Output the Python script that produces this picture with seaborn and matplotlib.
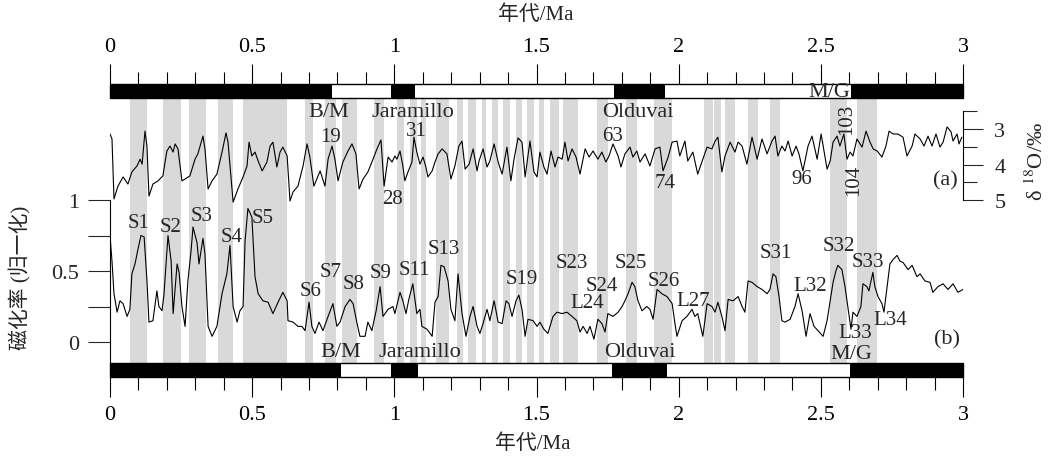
import matplotlib
matplotlib.use("Agg")
import matplotlib.pyplot as plt
from matplotlib.ticker import MultipleLocator, FuncFormatter
import seaborn as sns

# (a) benthic d18O record, age in Ma
age_a = [0.000, 0.007, 0.014, 0.028, 0.046, 0.063, 0.077, 0.095, 0.106, 0.113,
         0.123, 0.130, 0.137, 0.151, 0.169, 0.186, 0.200, 0.211, 0.222, 0.229,
         0.239, 0.253, 0.264, 0.281, 0.299, 0.309, 0.327, 0.334, 0.345, 0.359,
         0.376, 0.394, 0.408, 0.415, 0.433, 0.450, 0.468, 0.482, 0.489, 0.499,
         0.510, 0.521, 0.535, 0.552, 0.563, 0.573, 0.587, 0.598, 0.608, 0.623,
         0.633, 0.644, 0.661, 0.679, 0.693, 0.703, 0.717, 0.739, 0.756, 0.767,
         0.781, 0.791, 0.802, 0.819, 0.837, 0.851, 0.865, 0.876, 0.890, 0.907,
         0.925, 0.939, 0.953, 0.964, 0.978, 0.992, 1.002, 1.009, 1.020, 1.030,
         1.037, 1.048, 1.062, 1.069, 1.079, 1.090, 1.101, 1.111, 1.118, 1.133,
         1.143, 1.154, 1.168, 1.185, 1.199, 1.213, 1.227, 1.238, 1.249, 1.263,
         1.277, 1.291, 1.298, 1.312, 1.326, 1.336, 1.351, 1.365, 1.379, 1.396,
         1.410, 1.421, 1.435, 1.449, 1.460, 1.477, 1.491, 1.502, 1.512, 1.526,
         1.537, 1.551, 1.565, 1.576, 1.590, 1.600, 1.611, 1.625, 1.639, 1.653,
         1.671, 1.685, 1.699, 1.716, 1.730, 1.744, 1.755, 1.769, 1.787, 1.797,
         1.811, 1.829, 1.839, 1.853, 1.864, 1.882, 1.899, 1.917, 1.934, 1.945,
         1.963, 1.977, 1.994, 2.004, 2.022, 2.032, 2.050, 2.067, 2.085, 2.100,
         2.117, 2.128, 2.138, 2.152, 2.163, 2.181, 2.198, 2.209, 2.223, 2.240,
         2.258, 2.276, 2.293, 2.311, 2.328, 2.339, 2.349, 2.363, 2.374, 2.385,
         2.399, 2.413, 2.423, 2.437, 2.455, 2.469, 2.487, 2.501, 2.522, 2.533,
         2.543, 2.557, 2.567, 2.581, 2.592, 2.603, 2.613, 2.627, 2.645, 2.659,
         2.673, 2.684, 2.698, 2.715, 2.729, 2.740, 2.754, 2.771, 2.789, 2.803,
         2.821, 2.831, 2.849, 2.863, 2.877, 2.891, 2.905, 2.919, 2.930, 2.944,
         2.958, 2.965, 2.979, 2.986, 2.996]
d18o = [3.14, 3.28, 4.97, 4.61, 4.35, 4.55, 4.21, 4.04, 3.85, 3.99,
        3.06, 3.48, 4.89, 4.55, 4.46, 4.32, 3.62, 3.48, 3.65, 3.42,
        3.56, 4.46, 4.41, 4.32, 3.85, 3.70, 3.20, 3.56, 4.69, 4.46,
        4.27, 3.65, 3.11, 3.37, 5.06, 4.69, 4.35, 4.04, 3.37, 3.76,
        3.65, 3.90, 4.18, 3.93, 3.48, 3.37, 4.07, 3.65, 3.51, 3.76,
        5.03, 4.77, 4.61, 4.04, 3.42, 3.79, 4.61, 4.18, 4.61, 3.85,
        3.48, 3.85, 4.46, 3.93, 3.62, 3.42, 3.70, 4.69, 4.41, 4.21,
        3.85, 3.56, 3.31, 4.61, 3.79, 3.93, 3.76, 3.85, 3.62, 4.04,
        4.46, 4.21, 3.93, 3.23, 3.65, 3.99, 3.79, 4.07, 4.35, 4.18,
        3.93, 3.70, 3.56, 3.70, 4.41, 4.04, 3.48, 3.34, 4.13, 3.99,
        3.56, 4.18, 3.90, 3.56, 4.07, 3.90, 3.42, 3.93, 4.27, 3.51,
        4.46, 3.85, 3.25, 3.37, 4.35, 3.34, 4.21, 4.35, 3.65, 4.07,
        4.27, 3.62, 4.07, 3.79, 3.85, 3.37, 3.90, 3.56, 3.79, 4.27,
        3.56, 3.79, 3.62, 3.85, 3.65, 3.93, 3.76, 3.42, 3.76, 4.07,
        3.70, 3.51, 3.79, 3.62, 3.93, 3.70, 4.04, 3.56, 3.51, 4.18,
        3.79, 3.37, 3.34, 3.76, 3.34, 3.90, 3.65, 4.27, 3.85, 3.51,
        3.56, 3.34, 3.23, 4.21, 3.76, 3.37, 3.65, 3.37, 3.48, 3.99,
        3.23, 3.85, 3.28, 3.70, 3.34, 3.20, 3.76, 3.48, 3.62, 3.34,
        3.76, 3.48, 3.70, 4.18, 3.48, 3.20, 3.85, 3.14, 4.13, 3.90,
        3.37, 3.20, 3.48, 3.14, 3.85, 3.65, 3.76, 3.28, 3.51, 3.06,
        3.37, 3.56, 3.62, 3.79, 3.48, 3.06, 3.14, 3.14, 3.23, 3.76,
        3.48, 3.14, 3.28, 3.48, 3.20, 3.48, 3.14, 3.51, 3.37, 2.94,
        3.08, 3.34, 3.14, 3.42, 3.23]

# (b) normalised magnetic susceptibility of the loess section
age_b = [0.000, 0.007, 0.014, 0.025, 0.035, 0.046, 0.060, 0.070, 0.077, 0.088,
         0.098, 0.109, 0.120, 0.130, 0.137, 0.151, 0.165, 0.172, 0.183, 0.190,
         0.204, 0.215, 0.222, 0.236, 0.243, 0.253, 0.264, 0.274, 0.285, 0.292,
         0.306, 0.313, 0.327, 0.334, 0.345, 0.359, 0.376, 0.394, 0.411, 0.422,
         0.433, 0.447, 0.457, 0.468, 0.475, 0.485, 0.499, 0.510, 0.521, 0.538,
         0.556, 0.573, 0.591, 0.608, 0.623, 0.626, 0.644, 0.661, 0.675, 0.686,
         0.700, 0.710, 0.721, 0.735, 0.749, 0.767, 0.784, 0.798, 0.809, 0.827,
         0.844, 0.855, 0.869, 0.879, 0.897, 0.907, 0.921, 0.936, 0.950, 0.960,
         0.978, 0.995, 1.002, 1.020, 1.030, 1.041, 1.051, 1.065, 1.079, 1.090,
         1.097, 1.115, 1.133, 1.143, 1.154, 1.164, 1.175, 1.189, 1.199, 1.213,
         1.224, 1.238, 1.252, 1.266, 1.277, 1.291, 1.301, 1.312, 1.326, 1.336,
         1.351, 1.365, 1.379, 1.393, 1.403, 1.414, 1.428, 1.438, 1.449, 1.460,
         1.470, 1.488, 1.502, 1.512, 1.526, 1.540, 1.558, 1.572, 1.590, 1.607,
         1.625, 1.642, 1.653, 1.664, 1.678, 1.688, 1.702, 1.716, 1.730, 1.741,
         1.751, 1.769, 1.787, 1.801, 1.811, 1.822, 1.836, 1.846, 1.857, 1.871,
         1.888, 1.899, 1.910, 1.924, 1.941, 1.959, 1.977, 1.987, 1.994, 2.012,
         2.029, 2.047, 2.057, 2.067, 2.085, 2.100, 2.117, 2.128, 2.138, 2.152,
         2.163, 2.174, 2.191, 2.209, 2.223, 2.233, 2.244, 2.258, 2.276, 2.293,
         2.311, 2.321, 2.332, 2.342, 2.353, 2.363, 2.374, 2.392, 2.409, 2.420,
         2.434, 2.448, 2.462, 2.476, 2.490, 2.508, 2.522, 2.533, 2.543, 2.553,
         2.560, 2.574, 2.585, 2.596, 2.606, 2.613, 2.627, 2.641, 2.648, 2.662,
         2.669, 2.683, 2.690, 2.701, 2.715, 2.722, 2.733, 2.743, 2.754, 2.768,
         2.778, 2.789, 2.807, 2.821, 2.838, 2.849, 2.866, 2.884, 2.894, 2.912,
         2.930, 2.947, 2.965, 2.982, 3.000]
sus = [0.75, 0.57, 0.34, 0.21, 0.29, 0.27, 0.18, 0.23, 0.48, 0.55,
       0.65, 0.75, 0.74, 0.43, 0.14, 0.15, 0.36, 0.25, 0.22, 0.34,
       0.75, 0.57, 0.20, 0.55, 0.49, 0.25, 0.11, 0.43, 0.64, 0.81,
       0.70, 0.55, 0.73, 0.62, 0.11, 0.04, 0.11, 0.34, 0.48, 0.68,
       0.25, 0.14, 0.22, 0.25, 0.71, 0.94, 0.88, 0.46, 0.34, 0.29,
       0.28, 0.20, 0.28, 0.35, 0.29, 0.15, 0.14, 0.11, 0.11, 0.08,
       0.28, 0.11, 0.06, 0.14, 0.08, 0.18, 0.27, 0.11, 0.14, 0.25,
       0.30, 0.27, 0.13, 0.04, 0.04, 0.14, 0.08, 0.22, 0.39, 0.18,
       0.23, 0.25, 0.20, 0.35, 0.29, 0.20, 0.30, 0.41, 0.20, 0.23,
       0.11, 0.09, 0.04, 0.28, 0.32, 0.54, 0.53, 0.43, 0.23, 0.15,
       0.48, 0.20, 0.04, 0.18, 0.25, 0.11, 0.06, 0.13, 0.23, 0.15,
       0.29, 0.14, 0.13, 0.29, 0.27, 0.18, 0.29, 0.33, 0.23, 0.04,
       0.16, 0.15, 0.11, 0.14, 0.09, 0.06, 0.18, 0.21, 0.20, 0.21,
       0.18, 0.15, 0.07, 0.11, 0.06, 0.11, 0.02, 0.16, 0.13, 0.07,
       0.20, 0.18, 0.21, 0.25, 0.29, 0.34, 0.42, 0.39, 0.29, 0.22,
       0.25, 0.23, 0.16, 0.37, 0.34, 0.32, 0.27, 0.13, 0.04, 0.15,
       0.18, 0.23, 0.18, 0.20, 0.04, 0.27, 0.25, 0.21, 0.28, 0.18,
       0.08, 0.30, 0.29, 0.32, 0.25, 0.21, 0.43, 0.42, 0.39, 0.37,
       0.34, 0.37, 0.48, 0.46, 0.32, 0.15, 0.14, 0.16, 0.25, 0.34,
       0.22, 0.04, 0.20, 0.11, 0.08, 0.04, 0.15, 0.29, 0.42, 0.50,
       0.54, 0.51, 0.39, 0.23, 0.09, 0.21, 0.18, 0.25, 0.41, 0.39,
       0.36, 0.49, 0.39, 0.32, 0.27, 0.21, 0.39, 0.55, 0.58, 0.61,
       0.57, 0.56, 0.51, 0.54, 0.46, 0.48, 0.43, 0.42, 0.35, 0.39,
       0.41, 0.37, 0.41, 0.35, 0.37]

# grey bands (interglacial / soil units), Ma
band_start = [0.070, 0.186, 0.278, 0.380, 0.468, 0.686, 0.756, 0.816, 0.928,
              1.009, 1.055, 1.094, 1.147, 1.220, 1.259, 1.308, 1.343, 1.382,
              1.428, 1.467, 1.509, 1.548, 1.593, 1.713, 1.815, 1.913, 2.089,
              2.124, 2.163, 2.244, 2.321, 2.532, 2.627]
band_end = [0.130, 0.250, 0.338, 0.433, 0.623, 0.714, 0.795, 0.869, 0.964,
            1.034, 1.080, 1.111, 1.192, 1.242, 1.287, 1.322, 1.365, 1.407,
            1.449, 1.491, 1.526, 1.579, 1.646, 1.752, 1.855, 1.977, 2.121,
            2.149, 2.198, 2.279, 2.356, 2.592, 2.698]

# normal polarity intervals (black) in the two polarity columns
normal_top_start = [0.0, 0.99, 1.772, 2.605]
normal_top_end = [0.78, 1.073, 1.952, 3.0]
normal_bot_start = [0.0, 0.99, 1.767, 2.603]
normal_bot_end = [0.811, 1.083, 1.96, 3.0]

chron_names = ["B/M", "Jaramillo", "Olduvai", "M/G"]

sns.set_style("ticks")
plt.rcParams["font.family"] = ["Liberation Serif", "Noto Sans CJK SC", "DejaVu Sans"]
plt.rcParams["mathtext.fontset"] = "stix"

fig = plt.figure(figsize=(10.52, 4.6), dpi=100)
ax = fig.add_axes([110 / 1052, 82 / 460, 853 / 1052, 293 / 460])
ax2 = ax.twinx()

ax.set_xlim(0, 3)
ax.set_ylim(-0.2465, 1.817)
ax2.set_ylim(9.986, 1.732)

bar_h = 14 / 293
grey = "#d9d9d9"

for s, e in zip(band_start, band_end):
    ax.axvspan(s, e, ymin=bar_h, ymax=1 - bar_h, color=grey, lw=0, zorder=1)

# polarity columns
for y0, starts, ends in [(1 - bar_h, normal_top_start, normal_top_end),
                         (0, normal_bot_start, normal_bot_end)]:
    ax.axvspan(0, 3, ymin=y0, ymax=y0 + bar_h, facecolor="white",
               edgecolor="none", zorder=3, clip_on=False)
    for s, e in zip(starts, ends):
        ax.axvspan(s, e, ymin=y0, ymax=y0 + bar_h, facecolor="black",
                   edgecolor="none", zorder=4, clip_on=False)
    ax.axvspan(0, 3, ymin=y0, ymax=y0 + bar_h, facecolor="none",
               edgecolor="black", lw=1.0, zorder=5, clip_on=False)

sns.lineplot(x=age_b, y=sus, ax=ax, color="black", lw=0.8,
             estimator=None, sort=False, zorder=6)
sns.lineplot(x=age_a, y=d18o, ax=ax2, color="black", lw=0.8,
             estimator=None, sort=False, zorder=6)

# spines
for side in ["top", "bottom", "right"]:
    ax.spines[side].set_visible(False)
for side in ["top", "bottom", "left"]:
    ax2.spines[side].set_visible(False)
ax.spines["left"].set_bounds(-0.148, 1)
ax2.spines["right"].set_bounds(2.5, 5)
for sp in [ax.spines["left"], ax2.spines["right"]]:
    sp.set_linewidth(0.8)
    sp.set_color("black")

fmt = FuncFormatter(lambda v, p: f"{v:g}")

ax.xaxis.set_major_locator(MultipleLocator(0.5))
ax.xaxis.set_minor_locator(MultipleLocator(0.1))
ax.xaxis.set_major_formatter(fmt)
ax.tick_params(axis="x", which="both", top=True, bottom=True, labeltop=True,
               labelbottom=True, direction="out", width=0.8, colors="black",
               labelsize=16)
ax.tick_params(axis="x", which="major", length=14.5, pad=6)
ax.tick_params(axis="x", which="minor", length=9)

ax.set_yticks([0, 0.5, 1])
ax.set_yticks([0.25, 0.75], minor=True)
ax.yaxis.set_major_formatter(fmt)
ax.tick_params(axis="y", which="both", left=True, right=False, length=16,
               width=0.8, direction="out", labelsize=16, pad=6)

ax2.set_yticks([3, 4, 5])
ax2.set_yticks([2.5, 3.5, 4.5], minor=True)
ax2.yaxis.set_major_formatter(fmt)
ax2.tick_params(axis="y", which="major", length=14.5, width=0.8,
                direction="out", labelsize=16, pad=8)
ax2.tick_params(axis="y", which="minor", length=10, width=0.8, direction="out")
ax.set_ylabel("")
ax2.set_ylabel("")
ax.set_xlabel("")

# axis titles
fig.text(536 / 1052, 1 - 15 / 460, "年代/Ma", ha="center", va="center", fontsize=15)
fig.text(533 / 1052, 1 - 444 / 460, "年代/Ma", ha="center", va="center", fontsize=15)
fig.text(20 / 1052, 1 - 278 / 460, "磁化率 (归一化)", ha="center", va="center",
         rotation=90, fontsize=15)
fig.text(1037 / 1052, 1 - 162 / 460, "δ $^{18}$O/‰", ha="center", va="center",
         rotation=90, fontsize=16)

# chron labels above/below the polarity columns
top_lab_x = [0.770, 1.066, 1.857, 2.529]
top_lab_y = [1.62, 1.62, 1.62, 1.765]
bot_lab_x = [0.812, 1.09, 1.864, 2.606]
bot_lab_y = [-0.068, -0.068, -0.068, -0.083]
for name, x, y in zip(chron_names, top_lab_x, top_lab_y):
    ax.text(x, y, name, ha="center", va="center", fontsize=16, zorder=7)
for name, x, y in zip(chron_names, bot_lab_x, bot_lab_y):
    ax.text(x, y, name, ha="center", va="center", fontsize=16, zorder=7)

# soil / loess unit labels on (b)
unit_names = ["S1", "S2", "S3", "S4", "S5", "S6", "S7", "S8", "S9", "S11", "S13",
              "S19", "S23", "S24", "L24", "S25", "S26", "L27", "S31", "L32",
              "S32", "S33", "L33", "L34"]
unit_x = [0.100, 0.213, 0.324, 0.429, 0.538, 0.707, 0.777, 0.855, 0.950, 1.071,
          1.175, 1.449, 1.625, 1.730, 1.678, 1.832, 1.948, 2.050, 2.341, 2.462,
          2.564, 2.666, 2.620, 2.743]
unit_y = [0.84, 0.81, 0.89, 0.74, 0.88, 0.36, 0.50, 0.41, 0.49, 0.51, 0.66,
          0.45, 0.56, 0.40, 0.28, 0.56, 0.43, 0.29, 0.63, 0.40, 0.68, 0.57,
          0.07, 0.16]
for name, x, y in zip(unit_names, unit_x, unit_y):
    ax.text(x, y, name, ha="center", va="center", fontsize=15, zorder=7)
ax.text(2.944, 0.02, "(b)", ha="center", va="center", fontsize=16, zorder=7)

# marine isotope stage labels on (a)
mis_names = ["19", "28", "31", "63", "74", "96"]
mis_x = [0.777, 0.992, 1.076, 1.769, 1.952, 2.434]
mis_y = [3.22, 4.95, 3.03, 3.19, 4.50, 4.40]
for name, x, y in zip(mis_names, mis_x, mis_y):
    ax2.text(x, y, name, ha="center", va="center", fontsize=15, zorder=7)
ax2.text(2.592, 2.70, "103", ha="center", va="center", rotation=90, fontsize=15)
ax2.text(2.617, 4.42, "104", ha="center", va="center", rotation=90, fontsize=15)
ax2.text(2.937, 4.43, "(a)", ha="center", va="center", fontsize=16)

fig.savefig("out.png", dpi=100)
